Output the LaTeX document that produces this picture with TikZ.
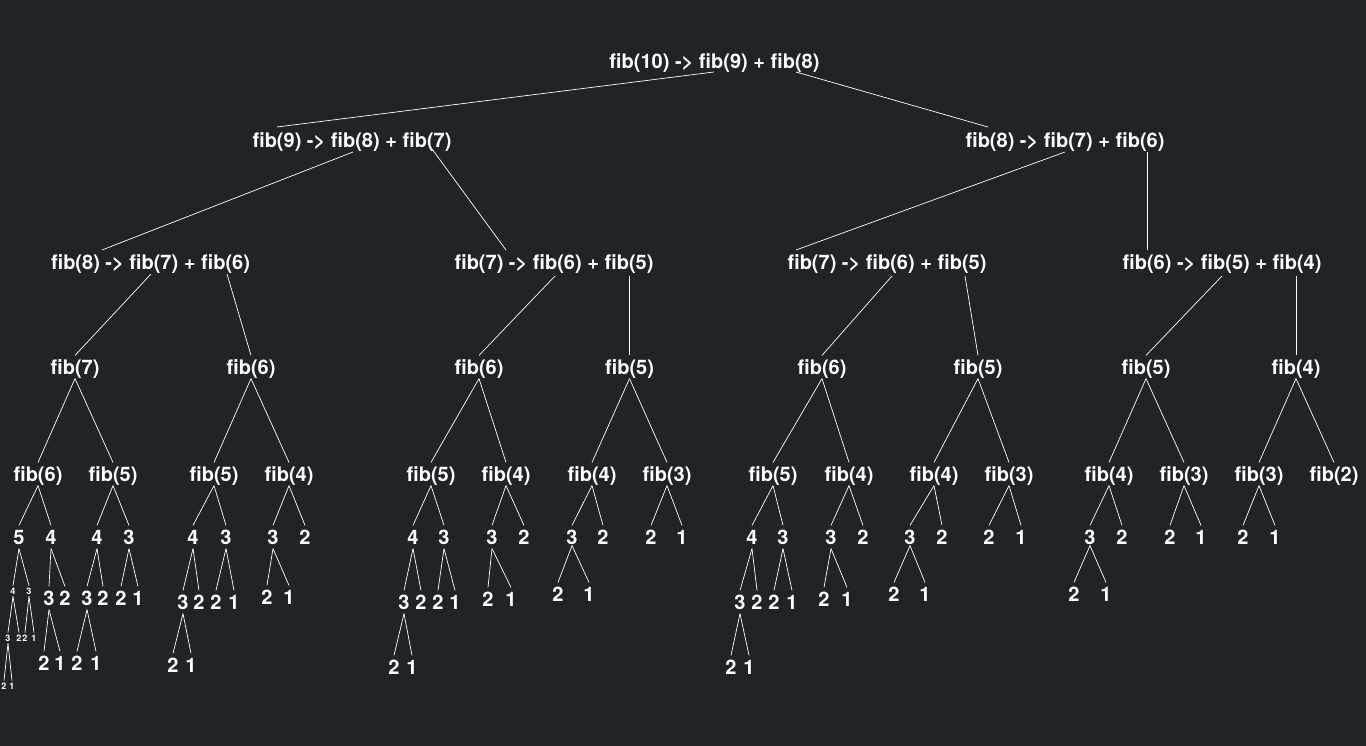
\documentclass[tikz,border=0pt]{standalone}
\usepackage{fontspec}
\setmainfont{TeX Gyre Heros}
\definecolor{bgc}{HTML}{202327}
\tikzset{
  lab/.style={text=white, font=\fontsize{20}{20}\selectfont\bfseries, inner xsep=0pt, inner ysep=2pt, text height=16.6pt, text depth=2.2pt},
  tinylab/.style={text=white, font=\fontsize{9}{9}\selectfont\bfseries, inner xsep=0pt, inner ysep=1pt, text height=7.5pt, text depth=1pt},
  edge/.style={draw=white, line width=0.7pt}
}
\begin{document}
\begin{tikzpicture}[x=1pt,y=-1pt]
\fill[bgc] (0,0) rectangle (1366,746);
\useasboundingbox (0,0) rectangle (1366,746);
% expression levels
\node[lab] (root) at (714.5,61) {fib(10) -> fib(9) + fib(8)};
\node[lab] (l1a) at (352,140) {fib(9) -> fib(8) + fib(7)};
\node[lab] (l1b) at (1065,140) {fib(8) -> fib(7) + fib(6)};
\node[lab] (n1) at (150.5,262) {fib(8) -> fib(7) + fib(6)};
\node[lab] (n2) at (554,262) {fib(7) -> fib(6) + fib(5)};
\node[lab] (n3) at (887,262) {fib(7) -> fib(6) + fib(5)};
\node[lab] (n4) at (1222,262) {fib(6) -> fib(5) + fib(4)};
% level 3
\node[lab] (t1) at (75,367) {fib(7)};
\node[lab] (t2) at (251,367) {fib(6)};
\node[lab] (t3) at (479,367) {fib(6)};
\node[lab] (t4) at (629.5,367) {fib(5)};
\node[lab] (t5) at (822,367) {fib(6)};
\node[lab] (t6) at (978,367) {fib(5)};
\node[lab] (t7) at (1146,367) {fib(5)};
\node[lab] (t8) at (1296,367) {fib(4)};
% level 4
\node[lab] (a) at (38,474) {fib(6)};
\node[lab] (b) at (113,474) {fib(5)};
\node[lab] (c) at (214,474) {fib(5)};
\node[lab] (d) at (289,474) {fib(4)};
\node[lab] (e) at (431,474) {fib(5)};
\node[lab] (f) at (506,474) {fib(4)};
\node[lab] (g) at (592,474) {fib(4)};
\node[lab] (h) at (667,474) {fib(3)};
\node[lab] (i) at (773,474) {fib(5)};
\node[lab] (j) at (849,474) {fib(4)};
\node[lab] (k) at (934,474) {fib(4)};
\node[lab] (l) at (1009,474) {fib(3)};
\node[lab] (m) at (1109,474) {fib(4)};
\node[lab] (n) at (1184,474) {fib(3)};
\node[lab] (o) at (1259,474) {fib(3)};
\node[lab] (p) at (1334,474) {fib(2)};
% level 5
\node[lab] (aL) at (19,537) {5};   \node[lab] (aR) at (51,537) {4};
\node[lab] (bL) at (97,537) {4};   \node[lab] (bR) at (129,537) {3};
\node[lab] (cL) at (193,537) {4};  \node[lab] (cR) at (226,537) {3};
\node[lab] (dL) at (273,537) {3};  \node[lab] (dR) at (305,537) {2};
\node[lab] (eL) at (413,537) {4};  \node[lab] (eR) at (444,537) {3};
\node[lab] (fL) at (492,537) {3};  \node[lab] (fR) at (524,537) {2};
\node[lab] (gL) at (572,537) {3};  \node[lab] (gR) at (603,537) {2};
\node[lab] (hL) at (651,537) {2};  \node[lab] (hR) at (682,537) {1};
\node[lab] (iL) at (752,537) {4};  \node[lab] (iR) at (783,537) {3};
\node[lab] (jL) at (831,537) {3};  \node[lab] (jR) at (863,537) {2};
\node[lab] (kL) at (910,537) {3};  \node[lab] (kR) at (942,537) {2};
\node[lab] (lL) at (989,537) {2};  \node[lab] (lR) at (1021,537) {1};
\node[lab] (mL) at (1090,537) {3}; \node[lab] (mR) at (1122,537) {2};
\node[lab] (nL) at (1170,537) {2}; \node[lab] (nR) at (1201,537) {1};
\node[lab] (oL) at (1243,537) {2}; \node[lab] (oR) at (1275,537) {1};
% level 6
\node[tinylab] (aLL) at (13,591) {4}; \node[tinylab] (aLR) at (29,591) {3};
\node[lab] (aRL) at (49,598) {3};   \node[lab] (aRR) at (65,598) {2};
\node[lab] (bLL) at (87,598) {3};   \node[lab] (bLR) at (103,598) {2};
\node[lab] (bRL) at (121,598) {2};  \node[lab] (bRR) at (138,598) {1};
\node[lab] (cLL) at (183,602) {3};  \node[lab] (cLR) at (199,602) {2};
\node[lab] (cRL) at (216,602) {2};  \node[lab] (cRR) at (234,602) {1};
\node[lab] (dLL) at (267,597) {2};  \node[lab] (dLR) at (289,597) {1};
\node[lab] (eLL) at (404,602) {3};  \node[lab] (eLR) at (421,602) {2};
\node[lab] (eRL) at (438,602) {2};  \node[lab] (eRR) at (455,602) {1};
\node[lab] (fLL) at (488,599) {2};  \node[lab] (fLR) at (511,599) {1};
\node[lab] (gLL) at (558,594) {2};  \node[lab] (gLR) at (589,594) {1};
\node[lab] (iLL) at (740,602) {3};  \node[lab] (iLR) at (757,602) {2};
\node[lab] (iRL) at (774,602) {2};  \node[lab] (iRR) at (792,602) {1};
\node[lab] (jLL) at (824,599) {2};  \node[lab] (jLR) at (847,599) {1};
\node[lab] (kLL) at (894,594) {2};  \node[lab] (kLR) at (925,594) {1};
\node[lab] (mLL) at (1074,594) {2}; \node[lab] (mLR) at (1106,594) {1};
% level 7
\node[tinylab] (aLLL) at (8,638) {3};  \node[tinylab] (aLLR) at (19,638) {2};
\node[tinylab] (aLRL) at (25,638) {2}; \node[tinylab] (aLRR) at (34,638) {1};
\node[lab] (aRLL) at (44,663) {2};  \node[lab] (aRLR) at (60,663) {1};
\node[lab] (bLLL) at (77,663) {2};  \node[lab] (bLLR) at (96,663) {1};
\node[lab] (cLLL) at (173,665) {2}; \node[lab] (cLLR) at (191,665) {1};
\node[lab] (eLLL) at (394,667) {2}; \node[lab] (eLLR) at (412,667) {1};
\node[lab] (iLLL) at (731,667) {2}; \node[lab] (iLLR) at (749,667) {1};
% level 8
\node[tinylab] (aLLLL) at (4,686) {2}; \node[tinylab] (aLLLR) at (12,686) {1};
% edges from expression nodes
\draw[edge] ([shift={(-0.5,11)}]root.center) -- ([shift={(-75,-13)}]l1a.center);
\draw[edge] ([shift={(81.5,11)}]root.center) -- ([shift={(-77,-13)}]l1b.center);
\draw[edge] ([shift={(1,12)}]l1a.center) -- ([shift={(-48.5,-12)}]n1.center);
\draw[edge] ([shift={(80,9)}]l1a.center) -- ([shift={(-48,-12)}]n2.center);
\draw[edge] ([shift={(0,12)}]l1b.center) -- ([shift={(-91,-12)}]n3.center);
\draw[edge] ([shift={(82,12)}]l1b.center) -- ([shift={(-75,-12)}]n4.center);
\draw[edge] ([shift={(0.5,12)}]n1.center) -- (t1.north);
\draw[edge] ([shift={(76.5,12)}]n1.center) -- (t2.north);
\draw[edge] ([shift={(1,14)}]n2.center) -- (t3.north);
\draw[edge] ([shift={(75.5,14)}]n2.center) -- (t4.north);
\draw[edge] ([shift={(5,14)}]n3.center) -- (t5.north);
\draw[edge] ([shift={(78,14)}]n3.center) -- (t6.north);
\draw[edge] ([shift={(0,14)}]n4.center) -- (t7.north);
\draw[edge] ([shift={(74,14)}]n4.center) -- (t8.north);
% edges between plain nodes
\foreach \pa/\ch in {t1/a,t1/b,t2/c,t2/d,t3/e,t3/f,t4/g,t4/h,t5/i,t5/j,t6/k,t6/l,t7/m,t7/n,t8/o,t8/p,
  a/aL,a/aR,b/bL,b/bR,c/cL,c/cR,d/dL,d/dR,e/eL,e/eR,f/fL,f/fR,g/gL,g/gR,h/hL,h/hR,
  i/iL,i/iR,j/jL,j/jR,k/kL,k/kR,l/lL,l/lR,m/mL,m/mR,n/nL,n/nR,o/oL,o/oR,
  aL/aLL,aL/aLR,aR/aRL,aR/aRR,bL/bLL,bL/bLR,bR/bRL,bR/bRR,cL/cLL,cL/cLR,cR/cRL,cR/cRR,
  dL/dLL,dL/dLR,eL/eLL,eL/eLR,eR/eRL,eR/eRR,fL/fLL,fL/fLR,
  iL/iLL,iL/iLR,iR/iRL,iR/iRR,jL/jLL,jL/jLR,
  aLL/aLLL,aLL/aLLR,aLR/aLRL,aLR/aLRR,aRL/aRLL,aRL/aRLR,bLL/bLLL,bLL/bLLR,
  cLL/cLLL,cLL/cLLR,eLL/eLLL,eLL/eLLR,iLL/iLLL,iLL/iLLR,aLLL/aLLLL,aLLL/aLLLR}
  \draw[edge] (\pa.south) -- (\ch.north);
\foreach \pa/\ch in {gL/gLL,gL/gLR,kL/kLL,kL/kLR,mL/mLL,mL/mLR}
  \draw[edge] ([yshift=3pt]\pa.south) -- (\ch.north);
\end{tikzpicture}
\end{document}
